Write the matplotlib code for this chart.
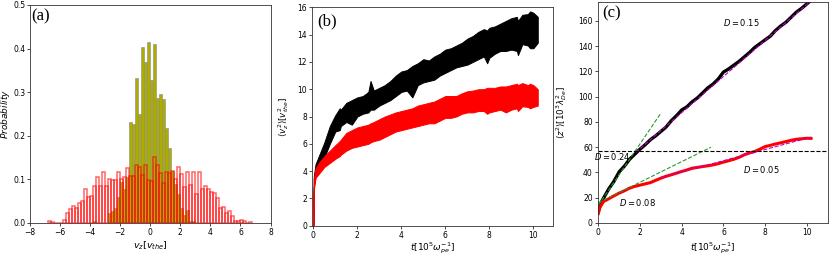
import matplotlib
matplotlib.use("Agg")
import matplotlib.pyplot as plt
import numpy as np

# ---------------- data ----------------
# panel (a): histogram densities, bin width 0.2
red_edges_start = -6.8
red_prob = [0.005, 0.003, 0.0, 0.0, 0.0, 0.007, 0.022, 0.032, 0.039, 0.034,
            0.045, 0.050, 0.077, 0.059, 0.062, 0.085, 0.105, 0.085, 0.116, 0.086,
            0.102, 0.099, 0.099, 0.116, 0.100, 0.105, 0.126, 0.108, 0.108, 0.134,
            0.128, 0.110, 0.132, 0.099,
            0.096, 0.152, 0.133, 0.114, 0.092, 0.118, 0.114, 0.120, 0.100, 0.129,
            0.112, 0.083, 0.116, 0.087, 0.118, 0.066, 0.118, 0.079, 0.086, 0.079,
            0.070, 0.068, 0.057, 0.034, 0.037, 0.024, 0.027, 0.016, 0.005, 0.005,
            0.007, 0.005, 0.0, 0.003]
olive_edges_start = -3.8
olive_prob = [0.005, 0.0, 0.0, 0.0, 0.0, 0.022, 0.028, 0.034, 0.059, 0.094,
              0.077, 0.106, 0.231, 0.226, 0.332, 0.249, 0.404, 0.369, 0.416, 0.328,
              0.410, 0.286, 0.296, 0.284, 0.219, 0.171, 0.120, 0.090, 0.066, 0.034,
              0.018, 0.030, 0.005, 0.005]
bin_width = 0.2

# panel (b): envelopes of noisy <v_z^2>
t_b = [0, 0.02, 0.1, 0.25, 0.5, 0.75, 1.0, 1.2, 1.25, 1.5, 1.75, 2.0, 2.25, 2.5, 2.6,
       2.75, 3.0, 3.25, 3.5, 3.75, 4.0, 4.25, 4.5, 4.75, 5.0, 5.25, 5.5, 5.75,
       6.0, 6.25, 6.5, 6.75, 7.0, 7.25, 7.5, 7.75, 7.9, 8.0, 8.25, 8.5, 8.75, 9.0,
       9.25, 9.3, 9.5, 9.75, 9.85, 10.0, 10.2]
black_up = [0, 3.6, 4.5, 5.1, 6.1, 7.3, 8.1, 8.6, 8.5, 9.0, 9.2, 9.4, 9.5, 9.8, 10.6,
            9.9, 10.1, 10.3, 10.6, 11.0, 11.3, 11.4, 11.7, 11.9, 12.2, 12.1, 12.4, 12.6,
            12.9, 13.0, 13.2, 13.4, 13.7, 13.9, 14.2, 14.4, 14.3, 14.5, 14.6, 14.8, 15.0, 15.2,
            15.3, 15.0, 15.45, 15.5, 15.7, 15.6, 15.3]
black_lo = [0, 2.8, 3.6, 4.1, 5.0, 6.0, 6.9, 7.0, 7.3, 7.6, 7.4, 8.0, 8.2, 8.3, 8.5,
            8.5, 8.8, 9.0, 9.2, 9.5, 9.8, 9.9, 9.4, 10.3, 10.5, 10.6, 10.7, 11.0,
            11.2, 11.4, 11.6, 11.7, 11.8, 12.0, 12.2, 12.4, 11.9, 12.3, 12.6, 12.8, 12.8, 12.9,
            12.8, 12.5, 13.3, 13.2, 13.0, 13.0, 13.4]
red_up = [0, 3.4, 4.2, 4.6, 5.1, 5.5, 5.9, 6.2, 6.3, 6.8, 7.0, 7.2, 7.3, 7.4, 7.5,
          7.6, 7.8, 8.0, 8.15, 8.3, 8.4, 8.5, 8.6, 8.8, 8.9, 9.0, 9.1, 9.3,
          9.5, 9.5, 9.5, 9.7, 9.85, 9.9, 10.0, 10.0, 10.1, 10.1, 10.1, 10.2, 10.2, 10.3,
          10.4, 10.3, 10.45, 10.3, 10.4, 10.3, 10.0]
red_lo = [0, 2.6, 3.5, 3.8, 4.3, 4.6, 4.9, 5.1, 5.2, 5.5, 5.7, 5.8, 5.9, 6.0, 6.1,
          6.2, 6.3, 6.5, 6.7, 6.9, 7.0, 7.1, 7.2, 7.3, 7.4, 7.5, 7.5, 7.7,
          7.9, 7.9, 8.0, 8.2, 8.3, 8.3, 8.4, 8.4, 8.2, 8.3, 8.4, 8.5, 8.3, 8.5,
          8.6, 8.4, 8.75, 8.7, 8.6, 8.7, 8.8]

# panel (c): <z^2>
t_c = [0, 0.05, 0.1, 0.25, 0.5, 0.75, 1.0, 1.25, 1.5, 1.75, 2.0, 2.25, 2.5, 2.75,
       3.0, 3.25, 3.5, 3.75, 4.0, 4.25, 4.5, 4.75, 5.0, 5.25, 5.5, 5.75, 6.0,
       6.25, 6.5, 6.75, 7.0, 7.25, 7.5, 7.75, 8.0, 8.25, 8.5, 8.75, 9.0, 9.25,
       9.5, 9.75, 10.0, 10.2]
z2_black = [9, 12, 15, 19.7, 27, 33, 40.5, 45, 50.5, 54.5, 58.5, 62, 66, 69,
            72.5, 76, 81, 85, 89.5, 92, 96, 99, 103, 107, 110, 114, 119.5,
            122, 125, 128, 131.5, 135, 139, 142, 145, 148, 152.5, 156, 159, 163,
            167, 170, 173.5, 176.5]
z2_red = [7.5, 11, 13, 17, 19.2, 21.5, 23.7, 25.5, 27.6, 29, 30, 31, 32, 33.8,
          35.5, 37, 38.2, 39.5, 40.8, 42, 43.4, 44, 44.7, 45.3, 46, 47, 48.2,
          49.3, 50.5, 52, 54, 55.5, 56.6, 58.5, 60.5, 61.5, 62.6, 63.5, 64.5, 65.5,
          66.3, 66.7, 67.1, 67]
fit_black_t = [1.8, 10.2]; fit_black_y = [56, 176]
fit_red_t = [3.0, 10.2]; fit_red_y = [36, 68]
green1_t = [0, 3.0]; green1_y = [14, 87]
green2_t = [0, 5.4]; green2_y = [16, 60]
hline_y = 57
annots = [("$D=0.15$", 6.0, 159), ("$D=0.24$", -0.2, 53),
          ("$D=0.05$", 6.95, 42.6), ("$D=0.08$", 1.0, 16.3)]

# ---------------- figure ----------------
W, H = 830, 256
fig = plt.figure(figsize=(W / 100, H / 100), dpi=100)

def ax_px(l, r, t, b):
    return fig.add_axes([l / W, 1 - b / H, (r - l) / W, (b - t) / H])

axa = ax_px(30, 270.5, 5, 223)
axb = ax_px(312, 552.5, 7.3, 225.7)
axc = ax_px(597.7, 827.7, 2, 223)

for ax in (axa, axb, axc):
    ax.tick_params(direction='out', length=2, width=0.5, pad=1.5, labelsize=5.5)
    for s in ax.spines.values():
        s.set_linewidth(0.6)
        s.set_color('#333333')

def place_labels(ax, top_px, bottom_px, left_px, right_px, xlab_top, ylab_right):
    h = bottom_px - top_px
    w = right_px - left_px
    ax.xaxis.set_label_coords(0.5, -(xlab_top - bottom_px) / h)
    ax.yaxis.set_label_coords(-(left_px - ylab_right) / w, 0.5)

# (a)
red_left = [red_edges_start + i * bin_width for i in range(len(red_prob))]
olive_left = [olive_edges_start + i * bin_width for i in range(len(olive_prob))]
axa.bar(olive_left, olive_prob, width=bin_width, align='edge',
        color=(0.68, 0.68, 0.0), edgecolor='#888888', linewidth=0.4)
axa.bar(red_left, red_prob, width=bin_width, align='edge', fill=False,
        edgecolor='red', alpha=0.6, linewidth=1.1)
axa.set_xlim(-8, 8)
axa.set_ylim(0, 0.5)
axa.set_xticks(range(-8, 9, 2))
axa.set_yticks(np.arange(0, 0.51, 0.1))
axa.set_xlabel(r"$v_z[v_{the}]$", fontsize=6.8)
axa.set_ylabel(r"$Probability$", fontsize=6.5)
place_labels(axa, 5, 223, 30, 270.5, 240, 12.5)
axa.text(0.005, 0.985, "(a)", transform=axa.transAxes, ha='left', va='top',
         fontsize=12, family='Liberation Serif')

# (b)
axb.fill_between(t_b, black_lo, black_up, color='black', linewidth=0.7)
axb.fill_between(t_b, red_lo, red_up, color='red', edgecolor='red', linewidth=0.7)
axb.set_xlim(-0.06, 10.87)
axb.set_ylim(0, 16)
axb.set_xticks(range(0, 11, 2))
axb.set_yticks(range(0, 17, 2))
axb.set_xlabel(r"$t[10^5\omega_{pe}^{-1}]$", fontsize=6.5)
axb.set_ylabel(r"$\langle v_z^2\rangle[v_{the}^2]$", fontsize=6.3)
place_labels(axb, 7.3, 225.7, 312, 552.5, 240, 291)
axb.text(0.02, 0.97, "(b)", transform=axb.transAxes, ha='left', va='top',
         fontsize=12, family='Liberation Serif')

# (c)
axc.plot(t_c, z2_black, color='black', linewidth=2.4)
axc.plot(t_c, z2_red, color='red', linewidth=2.2)
axc.plot(fit_black_t, fit_black_y, color='m', linestyle='--', linewidth=0.8)
axc.plot(fit_red_t, fit_red_y, color='m', linestyle='--', linewidth=0.8)
axc.plot(green1_t, green1_y, color='#2a9a2a', linestyle='--', linewidth=0.8)
axc.plot(green2_t, green2_y, color='#2a9a2a', linestyle='--', linewidth=0.8)
axc.axhline(hline_y, color='black', linestyle='--', linewidth=0.8)
for txt, x, y in annots:
    axc.text(x, y, txt, fontsize=6, ha='left', va='center')
axc.set_xlim(-0.03, 11.0)
axc.set_ylim(0, 175)
axc.set_xticks(range(0, 11, 2))
axc.set_yticks(range(0, 161, 20))
axc.set_xlabel(r"$t[10^5\omega_{pe}^{-1}]$", fontsize=6.5)
axc.set_ylabel(r"$\langle z^2\rangle[10^3\lambda_{De}^2]$", fontsize=6.3)
place_labels(axc, 2, 223, 597.7, 827.7, 240, 569)
axc.text(0.02, 0.985, "(c)", transform=axc.transAxes, ha='left', va='top',
         fontsize=12, family='Liberation Serif')

fig.savefig("out.png", dpi=100)
